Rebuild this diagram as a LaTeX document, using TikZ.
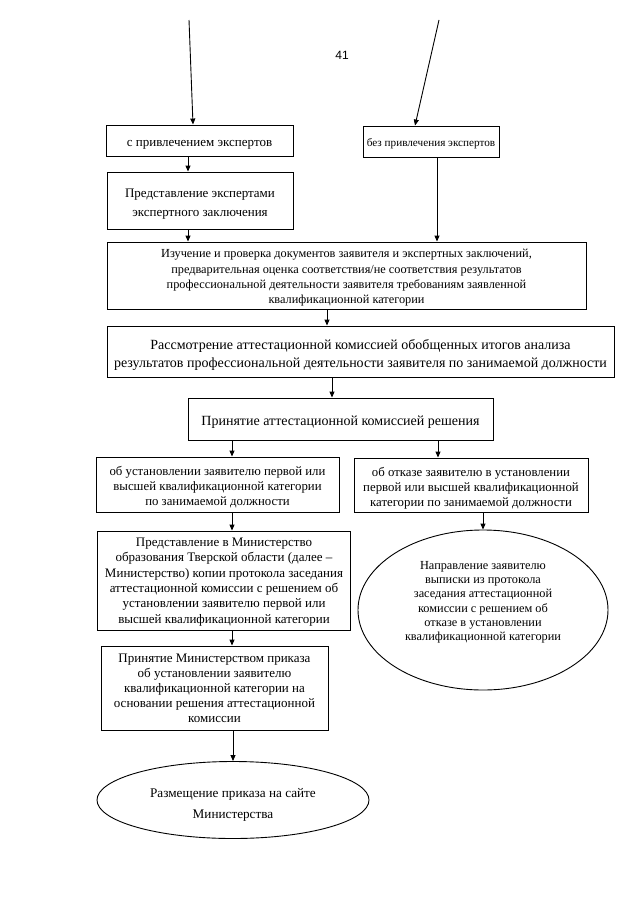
\documentclass[tikz,border=0pt]{standalone}
\usepackage{fontspec}
\setmainfont{Liberation Serif}
\newfontfamily\pagefont{Liberation Sans}
\usetikzlibrary{arrows.meta,shapes.geometric}
% text block, visually centred, moved #1 bp down from the node centre
\newcommand\tx[2][2.7]{\raisebox{\dimexpr -0.25em - #1bp\relax}[0pt][0pt]{%
  \begin{tabular}{@{}c@{}}#2\end{tabular}}}
\tikzset{
  boxst/.style={draw, line width=0.9bp, inner sep=0pt,
    font=\fontsize{13bp}{15.3bp}\selectfont},
  bigst/.style={boxst, font=\fontsize{14bp}{18bp}\selectfont},
  ellst/.style={draw, line width=0.9bp, ellipse, inner sep=0pt,
    font=\fontsize{12.3bp}{14.3bp}\selectfont},
  arr/.style={line width=0.9bp, -{Triangle[length=6bp,width=5bp]}},
}
\begin{document}
\begin{tikzpicture}[x=1bp,y=-1bp]
\useasboundingbox (0,0) rectangle (640,903);
\node[font=\pagefont\fontsize{12bp}{14bp}\selectfont] (pg) at (342,55) {41};

\coordinate (s1) at (189,20);
\coordinate (s2) at (439,20);

\node[boxst, minimum width=187bp, minimum height=31bp] (b1) at (199.5,140.5)
  {\tx[3]{с привлечением экспертов}};
\node[boxst, minimum width=136bp, minimum height=31bp,
  font=\fontsize{11.2bp}{14bp}\selectfont] (b2) at (431,141.5)
  {\tx[2.5]{без привлечения экспертов}};
\node[boxst, minimum width=186bp, minimum height=57bp,
  font=\fontsize{13bp}{19bp}\selectfont] (b3) at (200,200.5)
  {\tx[2.5]{Представление экспертами\\экспертного заключения}};
\node[boxst, minimum width=479bp, minimum height=67bp,
  font=\fontsize{12.3bp}{15.2bp}\selectfont] (b4) at (346.5,275.5)
  {\tx[2]{Изучение и проверка документов заявителя и экспертных заключений,\\
   предварительная оценка соответствия/не соответствия результатов\\
   профессиональной деятельности заявителя требованиям заявленной\\
   квалификационной категории}};
\node[bigst, minimum width=507bp, minimum height=51bp] (b5) at (360.5,351.5)
  {\tx[3]{Рассмотрение аттестационной комиссией обобщенных итогов анализа\\
   результатов профессиональной деятельности заявителя по занимаемой должности}};
\node[bigst, minimum width=305bp, minimum height=42bp] (b6) at (340.5,419)
  {\tx[2.7]{Принятие аттестационной комиссией решения}};
\node[boxst, minimum width=243bp, minimum height=55bp,
  font=\fontsize{12.8bp}{15bp}\selectfont] (b7) at (217.5,484.5)
  {\tx[2.5]{об установлении заявителю первой или\\высшей квалификационной категории\\по занимаемой должности}};
\node[boxst, minimum width=234bp, minimum height=54bp,
  font=\fontsize{12.8bp}{15bp}\selectfont] (b8) at (471,485)
  {\tx[3]{об отказе заявителю в установлении\\первой или высшей квалификационной\\категории по занимаемой должности}};
\node[boxst, minimum width=253bp, minimum height=99bp,
  font=\fontsize{13bp}{15.4bp}\selectfont] (b9) at (224,580.5)
  {\tx[1]{Представление в Министерство\\образования Тверской области (далее –\\Министерство) копии протокола заседания\\аттестационной комиссии с решением об\\установлении заявителю первой или\\высшей квалификационной категории}};
\node[boxst, minimum width=227bp, minimum height=84bp,
  font=\fontsize{13bp}{14.9bp}\selectfont] (b10) at (214.5,688)
  {\tx[1.5]{Принятие Министерством приказа\\об установлении заявителю\\квалификационной категории на\\основании решения аттестационной\\комиссии}};
\node[ellst, minimum width=250bp, minimum height=160bp] (e1) at (483,610)
  {\tx[-8]{Направление заявителю\\выписки из протокола\\заседания аттестационной\\комиссии с решением об\\отказе в установлении\\квалификационной категории}};
\node[ellst, minimum width=272bp, minimum height=77bp,
  font=\fontsize{13.2bp}{21bp}\selectfont] (e2) at (233,800)
  {\tx[4.5]{Размещение приказа на сайте\\Министерства}};

\draw[arr] (s1) -- ([xshift=-6.5bp]b1.north);
\draw[arr] (s2) -- ([xshift=-16bp]b2.north);
\draw[arr] ([xshift=-11.5bp]b1.south) -- ([xshift=-11.5bp]b1.south |- b3.north);
\draw[arr] ([xshift=-12bp]b3.south) -- ([xshift=-12bp]b3.south |- b4.north);
\draw[arr] ([xshift=6bp]b2.south) -- ([xshift=6bp]b2.south |- b4.north);
\draw[arr] ([xshift=-19.5bp]b4.south) -- ([xshift=-19.5bp]b4.south |- b5.north);
\draw[arr] ([xshift=-28.5bp]b5.south) -- ([xshift=-28.5bp]b5.south |- b6.north);
\draw[arr] ([xshift=-108.5bp]b6.south) -- ([xshift=-108.5bp]b6.south |- b7.north);
\draw[arr] ([xshift=97.5bp]b6.south) -- ([xshift=97.5bp]b6.south |- b8.north);
\draw[arr] ([xshift=14.5bp]b7.south) -- ([xshift=14.5bp]b7.south |- b9.north);
\draw[arr] (b8.south -| e1.north) -- (e1.north);
\draw[arr] ([xshift=8bp]b9.south) -- ([xshift=8bp]b9.south |- b10.north);
\draw[arr] (b10.south -| e2.north) -- (e2.north);
\end{tikzpicture}
\end{document}
